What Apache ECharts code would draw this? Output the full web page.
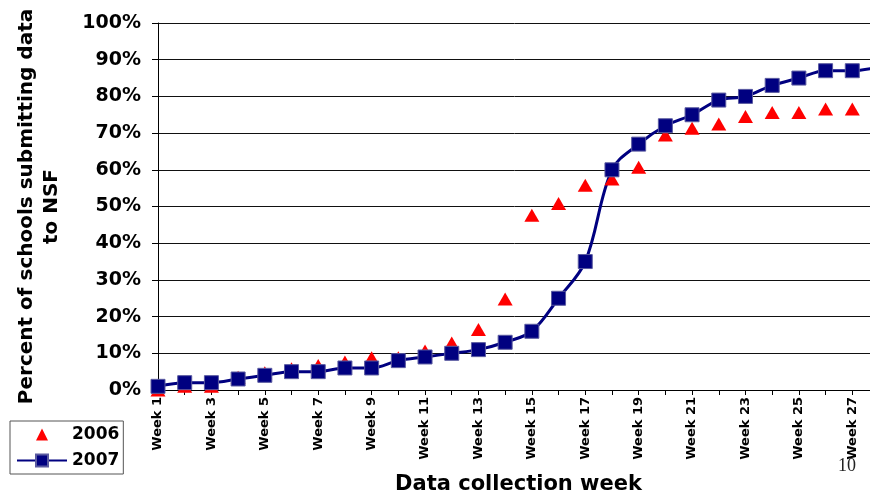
<!DOCTYPE html>
<html>
<head>
<meta charset="utf-8">
<script src="https://cdn.jsdelivr.net/npm/echarts@6/dist/echarts.min.js"></script>
<style>
  html, body { margin: 0; padding: 0; background: #fff; }
  .chart { width: 870px; height: 495px; }
</style>
</head>
<body>
<div class="chart"></div>
<script>
// 数据
var weeks = [];
for (var w = 1; w <= 28; w++) weeks.push('Week ' + w);
var yTicks = [0, 10, 20, 30, 40, 50, 60, 70, 80, 90, 100];
var data2006 = [0, 1, 1, 3.5, 4.7, 5.8, 6.7, 7.6, 8.8, 8.8, 10.6, 12.8, 16.5, 24.8, 47.6, 50.8, 55.8, 57.5, 60.7, 69.5, 71.3, 72.5, 74.5, 75.6, 75.6, 76.6, 76.6, null];
var data2007 = [1, 2, 2, 3, 4, 5, 5, 6, 6, 8, 9, 10, 11, 13, 16, 25, 35, 60, 67, 72, 75, 79, 80, 83, 85, 87, 87, 88];

var font = 'DejaVu Sans';
var myChart = echarts.init(document.querySelector('.chart'));
var option = {
    animation: false,
    grid: {
        left: 158,
        right: -9,
        top: 23,
        bottom: 105,
        outerBoundsMode: 'none',
        containLabel: false,
    },
    legend: {
        orient: 'vertical',
        left: 10,
        top: 421,
        padding: [5, 4, 5, 6],
        itemGap: 9,
        itemWidth: 50,
        itemHeight: 15,
        borderColor: '#555',
        borderWidth: 1,
        textStyle: { fontFamily: font, fontWeight: 'bold', fontSize: 17, color: '#000' },
        data: ['2006', '2007'],
    },
    graphic: [{
        type: 'text',
        left: 838,
        top: 457,
        style: { text: '10', font: '18px "Liberation Serif", serif', fill: '#222' },
    }],
    xAxis: {
        type: 'category',
        boundaryGap: false,
        data: weeks,
        axisLine: { lineStyle: { color: '#000', width: 1 } },
        axisTick: { show: true, length: 5, interval: 0, lineStyle: { color: '#000' } },
        axisLabel: {
            interval: 1,
            rotate: 90,
            margin: 7,
            fontFamily: font,
            fontWeight: 'bold',
            fontSize: 13,
            color: '#000',
        },
        name: 'Data collection week',
        nameLocation: 'middle',
        nameGap: 84,
        nameTextStyle: { fontFamily: font, fontWeight: 'bold', fontSize: 21, color: '#000' },
    },
    yAxis: {
        type: 'value',
        min: yTicks[0],
        max: yTicks[yTicks.length - 1],
        interval: 10,
        axisLine: { show: true, lineStyle: { color: '#000', width: 1 } },
        axisTick: { show: true, length: 6, lineStyle: { color: '#000' } },
        splitLine: { lineStyle: { color: '#111', width: 1 } },
        axisLabel: {
            formatter: '{value}%',
            margin: 17,
            fontFamily: font,
            fontWeight: 'bold',
            fontSize: 19,
            color: '#000',
        },
        name: 'Percent of schools submitting data\nto NSF',
        nameLocation: 'middle',
        nameGap: 94,
        nameTextStyle: { fontFamily: font, fontWeight: 'bold', fontSize: 20, lineHeight: 25, color: '#000' },
    },
    series: [{
        name: '2006',
        type: 'line',
        data: data2006,
        symbol: 'triangle',
        symbolSize: [15, 13],
        lineStyle: { width: 0, opacity: 0 },
        itemStyle: { color: '#ff0000' },
    }, {
        name: '2007',
        type: 'line',
        data: data2007,
        smooth: 0.35,
        symbol: 'rect',
        symbolSize: 14,
        lineStyle: { color: '#000080', width: 3 },
        itemStyle: { color: '#000080', borderColor: '#5a5aa0', borderWidth: 1 },
    }]
};

myChart.setOption(option);
</script>
</body>
</html>
